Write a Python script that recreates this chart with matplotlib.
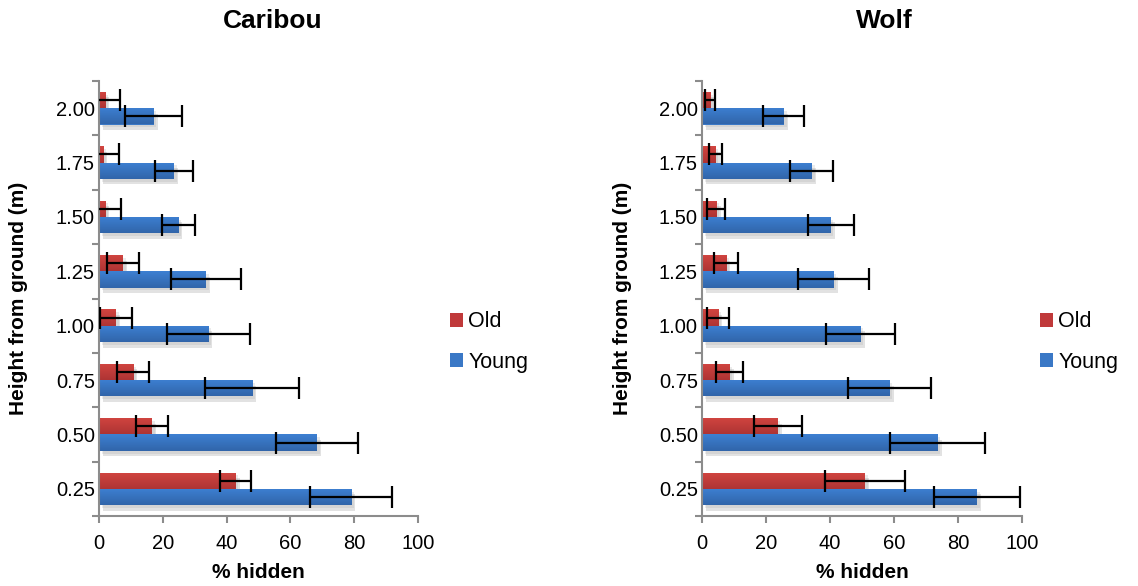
import numpy as np
import matplotlib
matplotlib.use("Agg")
import matplotlib.pyplot as plt
from matplotlib import patheffects as pe
from matplotlib.colors import LinearSegmentedColormap

plt.rcParams['font.family'] = ['Liberation Sans', 'DejaVu Sans']

heights = ["0.25", "0.50", "0.75", "1.00", "1.25", "1.50", "1.75", "2.00"]

caribou_old = [42.8, 16.6, 10.7, 5.3, 7.5, 1.9, 1.3, 1.9]
caribou_old_err = [5.0, 5.0, 5.0, 4.9, 5.0, 4.9, 4.9, 4.7]
caribou_young = [79.0, 68.3, 48.0, 34.2, 33.5, 24.8, 23.5, 17.1]
caribou_young_err = [12.7, 12.9, 14.8, 13.0, 10.9, 5.2, 6.0, 9.0]

wolf_old = [50.9, 23.6, 8.6, 5.1, 7.6, 4.5, 4.2, 2.6]
wolf_old_err = [12.6, 7.5, 4.2, 3.4, 3.7, 2.8, 2.0, 1.6]
wolf_young = [85.9, 73.6, 58.6, 49.5, 41.1, 40.2, 34.3, 25.6]
wolf_young_err = [13.5, 14.9, 12.9, 10.8, 11.0, 7.2, 6.7, 6.4]

x_ticks = [0, 20, 40, 60, 80, 100]

RED = "#C0393A"
BLUE = "#3A78C6"
red_cmap = LinearSegmentedColormap.from_list("red_grad", ["#D24540", "#AE3434"])
blue_cmap = LinearSegmentedColormap.from_list("blue_grad", ["#3D80D2", "#3165AA"])

GRAY = "#8C8C8C"
BAR_H = 0.30

shadow = [pe.SimplePatchShadow(offset=(3, -4), shadow_rgbFace="#a0a0a0", alpha=0.3),
          pe.SimplePatchShadow(offset=(2, -2), shadow_rgbFace="#a0a0a0", alpha=0.2),
          pe.Normal()]


def gradient_bars(ax, y, widths, color, cmap):
    bars = ax.barh(y, widths, height=BAR_H, color=color, zorder=2, path_effects=shadow)
    grad = np.linspace(0, 1, 64).reshape(-1, 1)
    for b in bars:
        x0, y0 = b.get_x(), b.get_y()
        im = ax.imshow(grad, cmap=cmap, aspect="auto", zorder=2.5,
                       extent=[x0, x0 + b.get_width(), y0, y0 + b.get_height()],
                       interpolation="bilinear")
        im.set_clip_path(b)
    return bars


def panel(ax, old, old_err, young, young_err, label_x):
    y = np.arange(len(heights))
    old_bars = gradient_bars(ax, y + BAR_H / 2, old, RED, red_cmap)
    young_bars = gradient_bars(ax, y - BAR_H / 2, young, BLUE, blue_cmap)
    old_bars.set_label("Old")
    young_bars.set_label("Young")
    for vals, errs, yy in ((old, old_err, y + BAR_H / 2), (young, young_err, y - BAR_H / 2)):
        ax.errorbar(vals, yy, xerr=errs, fmt="none", ecolor="black",
                    elinewidth=1.6, capsize=8, capthick=1.6, zorder=4)

    ax.set_xlim(0, 100)
    ax.set_ylim(-0.5, len(heights) - 0.5)
    ax.set_xticks(x_ticks)
    ax.set_xticklabels([str(t) for t in x_ticks], fontsize=14.5)
    ax.set_yticks(np.arange(-0.5, len(heights), 1.0))
    ax.set_yticklabels([])
    ax.set_yticks(y, minor=True)
    ax.set_yticklabels(heights, minor=True, fontsize=14.5)
    ax.tick_params(axis="y", which="minor", length=0, pad=3)
    ax.tick_params(axis="y", which="major", length=5, width=1.5, color=GRAY)
    ax.tick_params(axis="x", which="major", length=5, width=1.5, color=GRAY, pad=8)
    for s in ("top", "right"):
        ax.spines[s].set_visible(False)
    for s in ("left", "bottom"):
        ax.spines[s].set_color(GRAY)
        ax.spines[s].set_linewidth(1.5)
    ax.set_xlabel("% hidden", fontsize=15, fontweight="bold", labelpad=7)
    ax.set_ylabel("Height from ground (m)", fontsize=15, fontweight="bold")
    ax.yaxis.set_label_coords(label_x, 0.5)
    return old_bars, young_bars


fig = plt.figure(figsize=(11.38, 5.86), dpi=100)
ax1 = fig.add_axes([99 / 1138, 1 - 516 / 586, 319 / 1138, 435 / 586])
ax2 = fig.add_axes([702 / 1138, 1 - 516 / 586, 320 / 1138, 435 / 586])

panel(ax1, caribou_old, caribou_old_err, caribou_young, caribou_young_err, -0.222)
panel(ax2, wolf_old, wolf_old_err, wolf_young, wolf_young_err, -0.219)

fig.text(273 / 1138, 1 - 21 / 586, "Caribou", fontsize=19, fontweight="bold",
         ha="center", va="center")
fig.text(884 / 1138, 1 - 21 / 586, "Wolf", fontsize=19, fontweight="bold",
         ha="center", va="center")

for ax, x in ((ax1, 450), (ax2, 1040)):
    leg = ax.legend(loc="center left", bbox_to_anchor=(x / 1138, 1 - 342 / 586),
                    bbox_transform=fig.transFigure, frameon=False, fontsize=15.5,
                    handlelength=0.6, handleheight=0.6, handletextpad=0.25,
                    labelspacing=0.9, borderpad=0, borderaxespad=0)
    for h in leg.legend_handles:
        h.set_path_effects([])

fig.savefig("out.png", dpi=100)
